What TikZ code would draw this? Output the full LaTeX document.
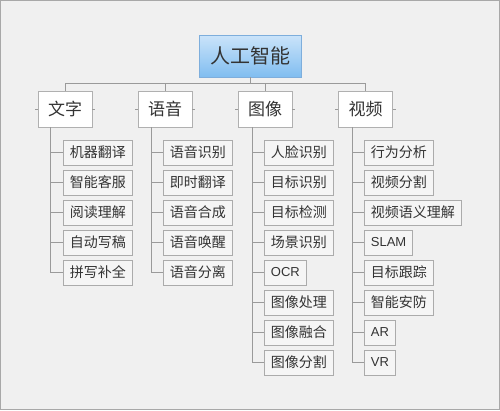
\documentclass[tikz,border=0pt]{standalone}
\usepackage{fontspec}
\setmainfont{Liberation Sans}
\newfontfamily\cjk{Noto Sans CJK SC}
\newfontfamily\latinf{Liberation Sans}
\newcommand\latsmall{\latinf\fontsize{13}{16}\selectfont}
\definecolor{bgc}{HTML}{F0F0F0}
\definecolor{framec}{HTML}{A8A8A8}
\definecolor{linec}{HTML}{9A9A9A}
\definecolor{childfill}{HTML}{F5F5F5}
\definecolor{childdraw}{HTML}{ABABAB}
\definecolor{catdraw}{HTML}{B0B0B0}
\definecolor{txt}{HTML}{333333}
\definecolor{roottop}{HTML}{CBE4FA}
\definecolor{rootbot}{HTML}{80BDF0}
\definecolor{rootdraw}{HTML}{7EAEDC}
\begin{document}
\begin{tikzpicture}[x=1pt,y=1pt,
  conn/.style={draw=linec, line width=0.8pt},
  rootbox/.style={draw=rootdraw, line width=0.8pt, top color=roottop, bottom color=rootbot,
    minimum width=102pt, minimum height=42pt, inner sep=0pt, text=txt,
    font=\cjk\fontsize{20}{24}\selectfont},
  catbox/.style={draw=catdraw, line width=0.8pt, fill=white,
    minimum width=54pt, minimum height=36pt, inner sep=0pt, text=txt,
    font=\cjk\fontsize{17}{20}\selectfont},
  childbox/.style={draw=childdraw, line width=0.8pt, fill=childfill, anchor=west,
    minimum height=25pt, inner xsep=6.5pt, inner ysep=0pt, text=txt,
    font=\cjk\fontsize{14}{16}\selectfont}
]
\useasboundingbox (0,0) rectangle (500,-410);
\fill[bgc] (0,0) rectangle (500,-410);
\draw[framec, line width=1pt] (0.5,-0.5) rectangle (499.5,-409.5);

\node[rootbox] (root) at (250,-56) {人工智能};

\node[catbox] (c1) at (65,-109) {文字};
\node[catbox] (c2) at (165,-109) {语音};
\node[catbox] (c3) at (265,-109) {图像};
\node[catbox] (c4) at (365.5,-109) {视频};

\coordinate (bar) at (250,-83);
\draw[conn] (root.south) -- (bar);
\foreach \c in {c1,c2,c3,c4} {
  \draw[conn] (bar) -| (\c.north);
  \draw[conn] (\c.west) -- ++(-3,0);
  \draw[conn] (\c.east) -- ++(3,0);
}

\coordinate (t1) at (50,-127);
\coordinate (t2) at (151,-127);
\coordinate (t3) at (252,-127);
\coordinate (t4) at (352,-127);

\foreach \t [count=\k] in {机器翻译,智能客服,阅读理解,自动写稿,拼写补全} {
  \node[childbox] (a\k) at (63,{-152.5-30*(\k-1)}) {\t};
  \draw[conn] (t1) |- (a\k.west);
}
\foreach \t [count=\k] in {语音识别,即时翻译,语音合成,语音唤醒,语音分离} {
  \node[childbox] (b\k) at (163,{-152.5-30*(\k-1)}) {\t};
  \draw[conn] (t2) |- (b\k.west);
}
\foreach \t [count=\k] in {人脸识别,目标识别,目标检测,场景识别,{\latsmall OCR},图像处理,图像融合,图像分割} {
  \node[childbox] (d\k) at (264,{-152.5-30*(\k-1)}) {\t};
  \draw[conn] (t3) |- (d\k.west);
}
\foreach \t [count=\k] in {行为分析,视频分割,视频语义理解,{\latsmall SLAM},目标跟踪,智能安防,{\latsmall AR},{\latsmall VR}} {
  \node[childbox] (e\k) at (364,{-152.5-30*(\k-1)}) {\t};
  \draw[conn] (t4) |- (e\k.west);
}
\end{tikzpicture}
\end{document}
